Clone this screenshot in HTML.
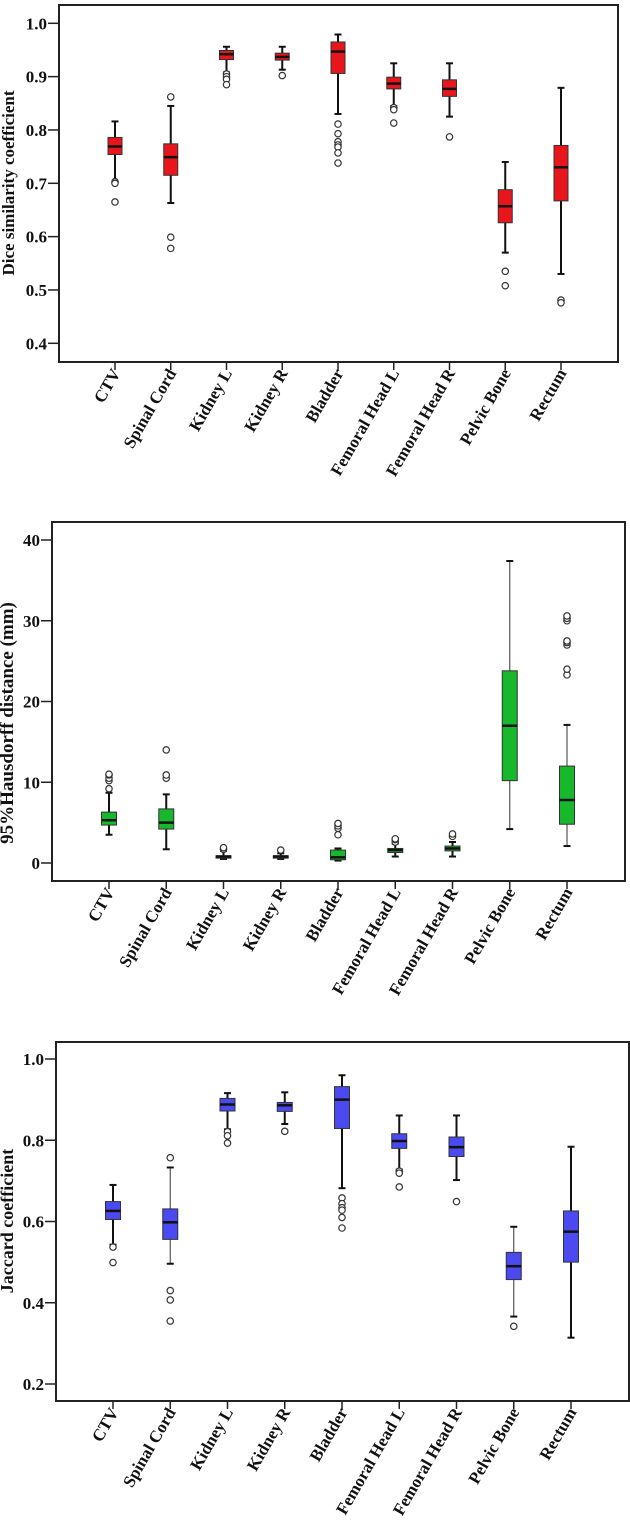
<!DOCTYPE html>
<html><head><meta charset="utf-8"><style>
html,body{margin:0;padding:0;background:#fff;}
svg{display:block;}
text{font-family:"Liberation Serif",serif;font-weight:bold;fill:#111;}
</style></head><body>
<svg id="svg" width="630" height="1532" viewBox="0 0 630 1532">
<defs><clipPath id="clip2"><rect x="0" y="500" width="630" height="502"/></clipPath></defs>
</svg>
<script>
const categories = ["CTV","Spinal Cord","Kidney L","Kidney R","Bladder","Femoral Head L","Femoral Head R","Pelvic Bone","Rectum"];

const diceLo  = [0.703,0.663,0.908,0.913,0.830,0.845,0.825,0.570,0.530];
const diceQ1  = [0.754,0.715,0.932,0.931,0.906,0.877,0.863,0.626,0.667];
const diceMed = [0.769,0.749,0.942,0.937,0.947,0.887,0.877,0.657,0.730];
const diceQ3  = [0.786,0.774,0.949,0.944,0.965,0.899,0.894,0.688,0.771];
const diceHi  = [0.816,0.845,0.956,0.956,0.979,0.925,0.925,0.740,0.879];
const diceOut = [[0.703,0.700,0.665],[0.862,0.599,0.578],[0.905,0.900,0.895,0.885],[0.902],[0.811,0.793,0.778,0.772,0.768,0.757,0.738],[0.842,0.838,0.813],[0.787],[0.535,0.508],[0.481,0.476]];
const diceTicks = ["0.4","0.5","0.6","0.7","0.8","0.9","1.0"];

const hdLo  = [3.5,1.7,0.5,0.5,0.3,0.8,0.8,4.2,2.1];
const hdQ1  = [4.7,4.2,0.6,0.6,0.4,1.3,1.5,10.2,4.8];
const hdMed = [5.3,5.0,0.8,0.8,0.7,1.6,1.8,17.0,7.8];
const hdQ3  = [6.3,6.7,0.9,0.9,1.6,1.8,2.1,23.8,12.0];
const hdHi  = [8.7,8.5,1.5,1.2,1.8,2.4,2.6,37.4,17.1];
const hdOut = [[9.2,10.2,10.5,10.9,11.0],[10.5,10.9,14.0],[1.7,1.9],[1.6],[3.5,4.3,4.6,4.9],[2.6,2.9,3.0],[3.3,3.6],[],[23.3,24.0,27.0,27.3,27.5,30.0,30.3,30.6]];
const hdTicks = ["0","10","20","30","40"];

const jacLo  = [0.543,0.496,0.827,0.840,0.682,0.728,0.702,0.366,0.314];
const jacQ1  = [0.605,0.556,0.872,0.871,0.829,0.780,0.760,0.457,0.500];
const jacMed = [0.626,0.598,0.888,0.886,0.900,0.798,0.783,0.490,0.575];
const jacQ3  = [0.649,0.631,0.903,0.893,0.932,0.816,0.808,0.524,0.626];
const jacHi  = [0.690,0.733,0.916,0.918,0.960,0.861,0.861,0.587,0.784];
const jacOut = [[0.537,0.499],[0.757,0.430,0.407,0.355],[0.821,0.811,0.793],[0.822],[0.658,0.644,0.634,0.628,0.610,0.584],[0.724,0.719,0.685],[0.649],[0.342],[]];
const jacTicks = ["0.2","0.4","0.6","0.8","1.0"];

const NS="http://www.w3.org/2000/svg";
const svg=document.getElementById('svg');
function mk(tag,attrs,parent){const e=document.createElementNS(NS,tag);for(const k in attrs)e.setAttribute(k,attrs[k]);(parent||svg).appendChild(e);return e;}

function drawChart(cfg,lo,q1,med,q3,hi,out,ticks){
  const g=mk('g',{});
  
  
  if(cfg.clip) g.setAttribute('clip-path','url(#'+cfg.clip+')');
  const y=v=>cfg.y0+(v-cfg.v0)*(cfg.y1-cfg.y0)/(cfg.v1-cfg.v0);
  const x=i=>cfg.cx0+i*cfg.step;
  const frame=mk('rect',{x:cfg.L,y:cfg.T,width:cfg.R-cfg.L,height:cfg.B-cfg.T,fill:'none',stroke:'#222','stroke-width':2},g);
  
  
  ticks.forEach(t=>{
    const v=parseFloat(t),yy=y(v);
    const tk=mk('line',{x1:cfg.L-11,x2:cfg.L,y1:yy,y2:yy,stroke:'#222','stroke-width':1.5},g);
    
    
    const tl=mk('text',{x:cfg.L-12,y:yy+6,'text-anchor':'end','font-size':17},g);
    tl.textContent=t;
    
    
  });
  const tt=mk('text',{x:0,y:0,'text-anchor':'middle','font-size':cfg.tfs,transform:'translate('+cfg.tx+','+cfg.ty+') rotate(-90)'},g);
  tt.textContent=cfg.title;
  
  
  categories.forEach((c,i)=>{
    const xx=x(i);
    const tk=mk('line',{x1:xx,x2:xx,y1:cfg.B,y2:cfg.B+8,stroke:'#222','stroke-width':1.5},g);
    
    
    const lb=mk('text',{x:0,y:0,'text-anchor':'end','font-size':17,transform:'translate('+(xx+6)+','+(cfg.B+11)+') rotate(-60)'},g);
    lb.textContent=c;
    
    
    const bw=cfg.bw, ws=cfg.whisk[i];
    const wl=mk('line',{x1:xx,x2:xx,y1:y(hi[i]),y2:y(lo[i]),stroke:ws[0],'stroke-width':ws[1]},g);
    
    
    [hi[i],lo[i]].forEach(v=>{
      const cap=mk('line',{x1:xx-3.5,x2:xx+3.5,y1:y(v),y2:y(v),stroke:'#111','stroke-width':2},g);
      
      
    });
    const bx=mk('rect',{x:xx-bw/2,y:y(q3[i]),width:bw,height:Math.max(1,y(q1[i])-y(q3[i])),fill:cfg.color,stroke:'#333','stroke-width':1},g);
    
    
    const md=mk('line',{x1:xx-bw/2,x2:xx+bw/2,y1:y(med[i]),y2:y(med[i]),stroke:'#111','stroke-width':2.5},g);
    
    
    out[i].forEach(v=>{
      const o=mk('circle',{cx:xx,cy:y(v),r:3.2,fill:'#fff',stroke:'#333','stroke-width':1.2},g);
      
      
    });
  });
}
const thick=['#111',2], thin=['#555',1.2];
drawChart({name:'dice-chart',L:59,R:618,T:5,B:362,v0:1.0,y0:23.3,v1:0.4,y1:343.3,cx0:115,step:55.75,bw:14,color:'#e8161c',title:'Dice similarity coefficient',tx:14,ty:183,tfs:17,
  whisk:[thick,thick,thick,thick,thick,thick,thick,thick,thick]},diceLo,diceQ1,diceMed,diceQ3,diceHi,diceOut,diceTicks);
drawChart({name:'hausdorff-chart',clip:'clip2',L:52,R:625,T:522,B:881,v0:40,y0:540,v1:0,y1:863,cx0:109,step:57.25,bw:15,color:'#18b82d',title:'95%Hausdorff distance (mm)',tx:13,ty:723,tfs:19,
  whisk:[thick,thick,thick,thick,thick,thick,thick,thin,thin]},hdLo,hdQ1,hdMed,hdQ3,hdHi,hdOut,hdTicks);
drawChart({name:'jaccard-chart',L:56,R:629,T:1042,B:1401,v0:1.0,y0:1059,v1:0.2,y1:1384,cx0:113,step:57.25,bw:15,color:'#4a4af0',title:'Jaccard coefficient',tx:13,ty:1221,tfs:18,
  whisk:[thick,thin,thick,thick,thick,thick,thick,thin,thick]},jacLo,jacQ1,jacMed,jacQ3,jacHi,jacOut,jacTicks);
</script>
</body></html>
